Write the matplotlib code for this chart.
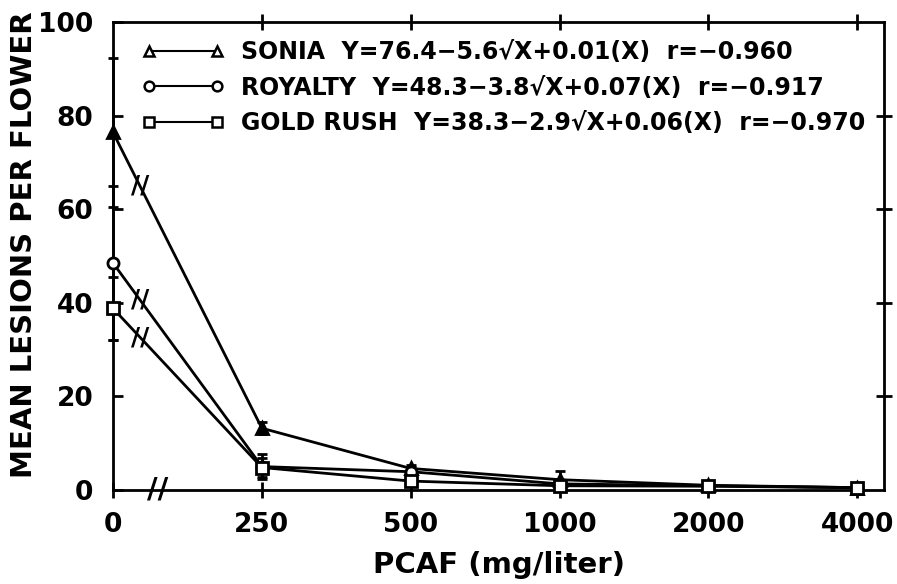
import matplotlib
matplotlib.use("Agg")

import matplotlib.pyplot as plt
from matplotlib.lines import Line2D

# Data
doses = ["0", "250", "500", "1000", "2000", "4000"]

sonia = [76.4, 13.2, 4.6, 2.2, 1.0, 0.5]
sonia_err = [16.0, 1.3, 0.8, 1.9, 0.4, 0.3]

royalty = [48.5, 5.0, 3.9, 1.3, 0.9, 0.5]
royalty_err = [16.5, 2.7, 1.0, 0.6, 0.4, 0.3]

gold_rush = [38.8, 4.8, 1.9, 0.9, 0.8, 0.5]
gold_rush_err = [6.8, 2.0, 1.0, 0.5, 0.4, 0.3]

legend_labels = [
    "SONIA  Y=76.4\u22125.6\u221aX+0.01(X)  r=\u22120.960",
    "ROYALTY  Y=48.3\u22123.8\u221aX+0.07(X)  r=\u22120.917",
    "GOLD RUSH  Y=38.3\u22122.9\u221aX+0.06(X)  r=\u22120.970",
]

plt.rcParams["font.family"] = ["DejaVu Sans"]
plt.rcParams["font.weight"] = "bold"

fig = plt.figure(figsize=(8.97, 5.84), dpi=100)
ax = fig.add_axes([0.126, 0.161, 0.8595, 0.8013])

x = list(range(len(doses)))

series = [
    (sonia, sonia_err, "^", "black"),
    (royalty, royalty_err, "o", "white"),
    (gold_rush, gold_rush_err, "s", "white"),
]
for y, err, mk, face in series:
    ax.errorbar(x, y, yerr=err, color="black", lw=2, marker=mk, ms=8,
                mfc=face, mec="black", mew=2, capsize=3.6, capthick=2,
                elinewidth=2, clip_on=False, zorder=3)
    # axis-break marks on the first segment
    bx = 0.18
    by = y[0] + bx * (y[1] - y[0])
    ax.text(bx, by, "//", ha="center", va="center", fontsize=18,
            fontweight="bold", zorder=4)

# break mark on the x axis
ax.text(0.3, 0, "//", ha="center", va="center", fontsize=21,
        fontweight="bold", transform=ax.transData, clip_on=False)

ax.set_xlim(0, 5.18)
ax.set_ylim(0, 100)
ax.set_xticks(x)
ax.set_xticklabels(doses)
ax.set_yticks([0, 20, 40, 60, 80, 100])

for s in ax.spines.values():
    s.set_linewidth(2)

ax.tick_params(axis="y", direction="in", length=7, width=2,
               labelsize=19, pad=14)
ax.tick_params(axis="x", direction="inout", length=12, width=2,
               labelsize=19, pad=10)

top = ax.secondary_xaxis("top")
top.set_xticks(x[1:])
top.tick_params(direction="inout", length=12, width=2, labeltop=False)
right = ax.secondary_yaxis("right")
right.set_yticks([20, 40, 60, 80])
right.tick_params(direction="inout", length=12, width=2, labelright=False)

ax.set_xlabel("PCAF (mg/liter)", fontsize=21, fontweight="bold")
ax.set_ylabel("MEAN LESIONS PER FLOWER", fontsize=21, fontweight="bold")
ax.xaxis.set_label_coords(0.50, -0.13)
ax.yaxis.set_label_coords(-0.097, 0.525)

handles = [
    Line2D([], [], color="black", lw=1.5, marker="^", ms=7, mfc="white", mew=1.8),
    Line2D([], [], color="black", lw=1.5, marker="o", ms=7, mfc="white", mew=1.8),
    Line2D([], [], color="black", lw=1.5, marker="s", ms=7, mfc="white", mew=1.8),
]
ax.legend(handles, legend_labels, loc="upper left", bbox_to_anchor=(0.037, 0.962),
          numpoints=2, handlelength=3.5, handletextpad=0.7, labelspacing=0.5,
          borderpad=0, borderaxespad=0, frameon=False,
          prop={"size": 17, "weight": "bold"})

fig.savefig("out.png", dpi=100)
plt.close(fig)
